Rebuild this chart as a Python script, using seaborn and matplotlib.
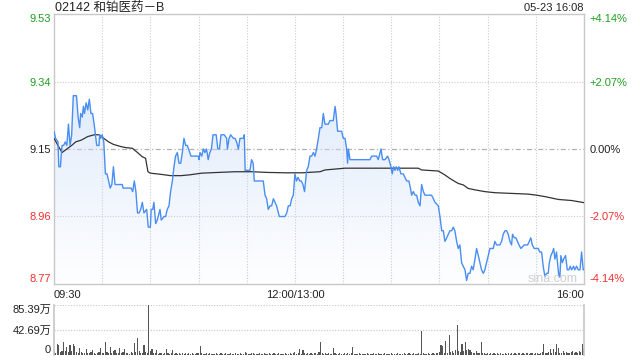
import numpy as np
import pandas as pd
import matplotlib
matplotlib.use("Agg")
import matplotlib.pyplot as plt
from matplotlib.patches import PathPatch
from matplotlib.colors import to_rgb
import seaborn as sns

# ---------------- data ----------------
title = "02142 和铂医药－B"
stamp = "05-23 16:08"
prev_close = 9.15
price_ticks = [8.77, 8.96, 9.15, 9.34, 9.53]
price_labels = ["8.77", "8.96", "9.15", "9.34", "9.53"]
pct_labels = ["-4.14%", "-2.07%", "0.00%", "+2.07%", "+4.14%"]
time_ticks = [0, 150, 330]
time_labels = ["09:30", "12:00/13:00", "16:00"]
vol_ticks = [0, 42.69, 85.39]
vol_labels = ["0", "42.69万", "85.39万"]

price_minutes = [
    0, 1, 2.5, 3, 4, 4.6, 5, 6, 7, 8, 9, 10, 11, 12, 14, 15, 16, 16.6, 17.6, 18.3,
    19, 20, 21, 22, 23, 24, 25, 26.6, 28, 28.4, 29, 30, 31, 32, 33, 34, 35, 36, 37, 38,
    39, 42.5, 43, 48, 49, 50, 51, 52, 53, 54, 55, 56, 57.7, 58.7, 60, 60.5, 61.5, 62.2, 63.3, 64.3,
    66, 66.8, 68.5, 69.5, 70.5, 71.6, 72.6, 73.7, 74.7, 75.7, 76.8, 77.8, 78.9, 79.9, 80.9, 82, 83, 85.3, 86.1, 89.9,
    90.3, 90.9, 92, 93, 94, 95, 96, 97, 98, 99, 101, 102, 103, 104, 106, 107.5, 108, 109, 110, 111.7,
    112.7, 113.7, 114.8, 115.8, 116.8, 117.9, 118.5, 119, 122, 123, 124, 124.7, 130.3, 131.4, 132.4, 133.4, 134.5, 135.5, 136.6, 137.6,
    138.6, 140.3, 143.8, 144.9, 145.9, 147, 148, 149, 150, 151, 152, 153, 154, 155, 156, 157.3, 158.3, 159.4, 160.4, 161.5,
    162.5, 163.5, 164.6, 165.6, 166.7, 167.7, 168.7, 170.8, 171.8, 173.9, 175, 175.6, 176.6, 179.1, 180.1, 181.2, 182.2, 182.8, 183.3, 184.3,
    196.7, 197.8, 200.9, 201.9, 203.6, 204.6, 206.1, 207.7, 208.6, 209.8, 210.6, 211.5, 212.3, 213.1, 214, 214.8, 216, 217.5, 218.5, 219.6,
    221, 221.9, 222.7, 223.7, 224.8, 225.8, 226.8, 227.9, 228.9, 230, 231, 232, 235.1, 236.2, 237.2, 239.3, 240.3, 241.4, 242.4, 243.4,
    244.5, 245.5, 246.5, 247.6, 248.6, 249.6, 250.7, 251.7, 252.7, 253.8, 254.8, 255.9, 256.9, 257.9, 259, 260, 261, 262.1, 263.1, 264.2,
    265.2, 266.2, 267.3, 268.3, 269.3, 270.4, 271.4, 272.5, 273.5, 274.5, 275.6, 276.6, 277.6, 278.7, 279.7, 280.8, 281.8, 282.8, 283.9, 284.9,
    285.5, 286.6, 287.6, 288.6, 289.5, 290.7, 292.8, 293.8, 294.9, 295.9, 296.9, 297.8, 299, 301.5, 302.5, 303.6, 304.6, 305.7, 306.7, 307.7,
    308.4, 309.4, 310.4, 311.1, 311.9, 312.9, 313.5, 314.4, 315, 315.6, 316.5, 317.3, 318.5, 319.6, 320.6, 321.4, 322.3, 323.5, 324.3, 325.4,
    326.4, 327.5, 328.5, 329.5, 330,
]
prices = [
    9.20, 9.18, 9.17, 9.10, 9.10, 9.14, 9.16, 9.16, 9.17, 9.16, 9.22, 9.16, 9.19, 9.30, 9.30, 9.24, 9.21, 9.25, 9.24, 9.27,
    9.25, 9.28, 9.26, 9.29, 9.25, 9.25, 9.22, 9.16, 9.16, 9.19, 9.18, 9.19, 9.17, 9.08, 9.08, 9.06, 9.04, 9.05, 9.10, 9.05,
    9.05, 9.05, 9.04, 9.04, 9.03, 9.06, 9.03, 8.97, 8.97, 8.98, 9.00, 8.97, 8.98, 8.93, 8.93, 8.98, 8.98, 9.00, 8.94, 8.95,
    8.98, 8.95, 8.96, 8.96, 8.98, 8.99, 9.03, 9.06, 9.10, 9.13, 9.14, 9.11, 9.11, 9.14, 9.18, 9.16, 9.16, 9.13, 9.13, 9.13,
    9.12, 9.14, 9.13, 9.15, 9.14, 9.15, 9.12, 9.14, 9.15, 9.19, 9.19, 9.15, 9.15, 9.19, 9.19, 9.18, 9.15, 9.18, 9.19, 9.18,
    9.18, 9.17, 9.15, 9.18, 9.18, 9.18, 9.19, 9.09, 9.09, 9.12, 9.11, 9.06, 9.06, 9.02, 9.01, 8.98, 8.99, 8.99, 9.01, 9.00,
    8.99, 8.96, 8.96, 8.97, 8.99, 8.99, 9.01, 9.02, 9.08, 9.06, 9.07, 9.06, 9.06, 9.05, 9.03, 9.09, 9.10, 9.13, 9.13, 9.14,
    9.13, 9.15, 9.18, 9.21, 9.21, 9.25, 9.22, 9.22, 9.23, 9.23, 9.27, 9.25, 9.20, 9.20, 9.18, 9.18, 9.15, 9.11, 9.15, 9.12,
    9.12, 9.13, 9.13, 9.12, 9.15, 9.12, 9.12, 9.13, 9.12, 9.10, 9.08, 9.10, 9.09, 9.10, 9.09, 9.10, 9.08, 9.08, 9.07, 9.06,
    9.06, 9.04, 9.02, 9.03, 9.02, 9.02, 9.00, 8.99, 9.05, 9.03, 9.02, 9.02, 9.02, 9.01, 9.00, 8.99, 8.96, 8.92, 8.92, 8.89,
    8.90, 8.91, 8.92, 8.92, 8.93, 8.92, 8.89, 8.87, 8.88, 8.83, 8.82, 8.81, 8.78, 8.80, 8.80, 8.82, 8.81, 8.84, 8.87, 8.85,
    8.83, 8.81, 8.80, 8.81, 8.83, 8.85, 8.87, 8.87, 8.87, 8.89, 8.88, 8.88, 8.88, 8.89, 8.91, 8.92, 8.92, 8.91, 8.89, 8.88,
    8.91, 8.90, 8.90, 8.89, 8.88, 8.87, 8.88, 8.88, 8.88, 8.89, 8.90, 8.88, 8.87, 8.87, 8.86, 8.86, 8.82, 8.79, 8.80, 8.80,
    8.83, 8.85, 8.86, 8.87, 8.84, 8.86, 8.83, 8.79, 8.79, 8.85, 8.83, 8.84, 8.85, 8.81, 8.81, 8.82, 8.81, 8.82, 8.81, 8.82,
    8.81, 8.81, 8.86, 8.81, 8.81,
]

avg_minutes = [
    0, 5, 8, 11, 13.5, 17, 21, 25, 28, 31, 34, 37, 41.5, 44.6, 48.8, 52, 55, 57, 58.5, 60,
    66, 72.6, 79, 84, 92, 102, 112.7, 123, 133.4, 143.8, 154.2, 165.6, 168.7, 181.2, 204, 226.8, 228.9, 239.3, 243.4, 246.5,
    251.7, 254.8, 257.9, 262.1, 268.3, 274.5, 284.9, 295.3, 300.5, 305.7, 314, 322.3, 330,
]
avg_prices = [
    9.180, 9.140, 9.150, 9.160, 9.170, 9.175, 9.185, 9.190, 9.190, 9.180, 9.170, 9.163, 9.157, 9.154, 9.152, 9.140, 9.128, 9.124, 9.086, 9.082,
    9.079, 9.075, 9.075, 9.077, 9.082, 9.084, 9.086, 9.086, 9.084, 9.083, 9.083, 9.086, 9.091, 9.096, 9.096, 9.096, 9.091, 9.088, 9.077, 9.067,
    9.053, 9.049, 9.039, 9.035, 9.030, 9.027, 9.025, 9.023, 9.020, 9.016, 9.008, 9.005, 8.999,
]

# volume per minute, unit: 万 shares
volumes = [
    6, 4, 18, 17, 5, 7, 23, 6, 14, 5,
    17, 6, 19, 15, 5, 4, 12, 5, 3, 4,
    10, 3, 4, 5, 8, 3, 2, 4, 5, 12,
    4, 3, 23, 5, 3, 14, 4, 6, 9, 3,
    4, 12, 3, 5, 10, 3, 4, 2, 5, 4,
    20, 5, 29, 6, 4, 3, 17, 5, 4, 85.39,
    6, 11, 4, 3, 8, 2, 3, 4, 2, 3,
    11, 3, 2, 4, 8, 2, 3, 1, 4, 2,
    3, 2, 4, 1, 3, 2, 3, 2, 1, 3,
    4, 16, 3, 2, 1, 3, 2, 4, 1, 2,
    2, 3, 1, 2, 4, 2, 1, 3, 2, 1,
    3, 2, 2, 4, 1, 2, 3, 1, 2, 5,
    3, 2, 1, 3, 4, 2, 1, 2, 3, 1,
    2, 3, 1, 2, 4, 2, 1, 3, 2, 2,
    3, 1, 2, 2, 3, 1, 2, 4, 2, 3,
    5, 2, 3, 10, 2, 8, 3, 2, 4, 2,
    3, 2, 4, 3, 2, 5, 23, 4, 2, 3,
    2, 3, 1, 2, 12, 3, 2, 1, 3, 2,
    2, 3, 2, 4, 1, 3, 14, 2, 1, 2,
    3, 1, 2, 2, 1, 3, 2, 1, 2, 3,
    1, 2, 3, 2, 1, 2, 3, 1, 2, 2,
    3, 2, 1, 2, 3, 2, 1, 2, 3, 2,
    2, 3, 1, 2, 3, 2, 2, 3, 2, 41.5,
    3, 2, 2, 3, 2, 1, 3, 2, 3, 4,
    5, 17, 15, 3, 24, 4, 34, 5, 6, 4,
    8, 51, 7, 5, 18, 6, 22, 9, 11, 8,
    5, 4, 3, 6, 4, 3, 23, 4, 3, 2,
    3, 2, 4, 2, 3, 2, 3, 2, 3, 2,
    2, 3, 2, 3, 2, 4, 2, 3, 2, 3,
    4, 2, 3, 2, 4, 3, 2, 3, 4, 2,
    3, 4, 2, 3, 5, 19, 4, 3, 5, 10,
    4, 11, 5, 19, 12, 4, 3, 7, 4, 5,
    4, 3, 5, 7, 4, 5, 3, 6, 5, 19,
    10,
]
vol_minutes = list(range(len(volumes)))

# ---------------- style ----------------
sns.set_theme(style="white")
plt.rcParams["font.family"] = ["Liberation Sans", "Noto Sans CJK SC"]
plt.rcParams["axes.unicode_minus"] = False

GREEN = "#1e9e1e"
RED = "#f03030"
DARK = "#222222"
SPINE = "#c8c8c8"
GRID = "#cccccc"
LINE = "#4a8ef2"

W, H = 640, 360
fig = plt.figure(figsize=(6.4, 3.6), dpi=100)
ax = fig.add_axes([54 / W, 1 - 284 / H, 530 / W, 270 / H])
axv = fig.add_axes([54 / W, 1 - 355 / H, 530 / W, 50 / H])

ymin, ymax = price_ticks[0], price_ticks[-1]

# gradient fill under the price line
poly = ax.fill_between(price_minutes, prices, ymin, facecolor="none", edgecolor="none")
path = poly.get_paths()[0]
patch = PathPatch(path, transform=ax.transData, facecolor="none", edgecolor="none")
ax.add_patch(patch)
n = 256
img = np.zeros((n, 1, 4))
img[..., :3] = to_rgb("#cddff9")
img[..., 3] = np.linspace(0.85, 0.02, n)[:, None]
im = ax.imshow(img, extent=[0, 330, ymin, ymax], aspect="auto", origin="upper", zorder=1)
im.set_clip_path(patch)

# grid
for t in range(30, 330, 30):
    ax.axvline(t, color=GRID, lw=0.8, ls=(0, (1, 1.5)), zorder=0.5)
for v in price_ticks[1:-1]:
    if v == prev_close:
        ax.axhline(v, color="#b0b0b0", lw=0.9, ls=(0, (4, 2, 1, 2)), zorder=0.5)
    else:
        ax.axhline(v, color=GRID, lw=0.8, ls=(0, (1, 1.5)), zorder=0.5)

# lines
pdf = pd.DataFrame({"minute": price_minutes, "price": prices})
adf = pd.DataFrame({"minute": avg_minutes, "avg": avg_prices})
sns.lineplot(data=pdf, x="minute", y="price", ax=ax, color=LINE, lw=1.0,
             estimator=None, sort=False, zorder=4)
sns.lineplot(data=adf, x="minute", y="avg", ax=ax, color="#333333", lw=0.9,
             estimator=None, sort=False, zorder=3)

ax.set_xlim(0, 330)
ax.set_ylim(ymin, ymax)
ax.set_xlabel("")
ax.set_ylabel("")
for s in ax.spines.values():
    s.set_color(SPINE)
    s.set_linewidth(1.0)

colors = [RED, RED, DARK, GREEN, GREEN]
ax.set_yticks(price_ticks)
ax.set_yticklabels(price_labels)
ax.tick_params(axis="both", length=0, labelsize=8)
ax.tick_params(axis="y", pad=2)
ax.tick_params(axis="x", pad=4)
for i, lab in enumerate(ax.get_yticklabels()):
    lab.set_color(colors[i])
    if i == 0:
        lab.set_va("bottom")
    elif i == len(price_ticks) - 1:
        lab.set_va("top")
ax.set_xticks(time_ticks)
ax.set_xticklabels(time_labels)
for lab, ha in zip(ax.get_xticklabels(), ["left", "center", "right"]):
    lab.set_ha(ha)
    lab.set_color(DARK)

ax2 = ax.twinx()
ax2.set_ylim(ymin, ymax)
ax2.set_yticks(price_ticks)
ax2.set_yticklabels(pct_labels)
ax2.tick_params(axis="y", length=0, labelsize=8, pad=4)
for s in ax2.spines.values():
    s.set_visible(False)
for i, lab in enumerate(ax2.get_yticklabels()):
    lab.set_color(colors[i])
    if i == 0:
        lab.set_va("bottom")
    elif i == len(price_ticks) - 1:
        lab.set_va("top")

ax.text(0.94, 0.02, "sina.com", transform=ax.transAxes, ha="center", va="center",
        fontsize=9, color="#d0d0d0", zorder=5)

# volume panel
sns.barplot(x=vol_minutes, y=volumes, ax=axv, native_scale=True, color="#555555",
            width=0.7, errorbar=None, linewidth=0, saturation=1)
axv.set_xlim(0, 330)
axv.set_ylim(0, vol_ticks[-1])
axv.set_xticks([])
axv.set_xlabel("")
axv.set_ylabel("")
axv.spines["top"].set_visible(False)
axv.spines["bottom"].set_visible(False)
axv.spines["left"].set_color(SPINE)
axv.spines["right"].set_color(SPINE)
for v in vol_ticks[1:]:
    axv.axhline(v, color=GRID, lw=0.9, ls=(0, (1, 1.2)), zorder=0.5)
axv.set_yticks(vol_ticks)
axv.set_yticklabels(vol_labels)
axv.tick_params(axis="y", length=0, labelsize=8, pad=2)
for i, lab in enumerate(axv.get_yticklabels()):
    lab.set_color(DARK)
    if i == 0:
        lab.set_va("bottom")
    elif i == len(vol_ticks) - 1:
        lab.set_va("top")

fig.text(55 / W, 1 - 8 / H, title, ha="left", va="center", fontsize=9, color=DARK)
fig.text(584 / W, 1 - 8 / H, stamp, ha="right", va="center", fontsize=8, color=DARK)

fig.savefig("out.png", dpi=100)
